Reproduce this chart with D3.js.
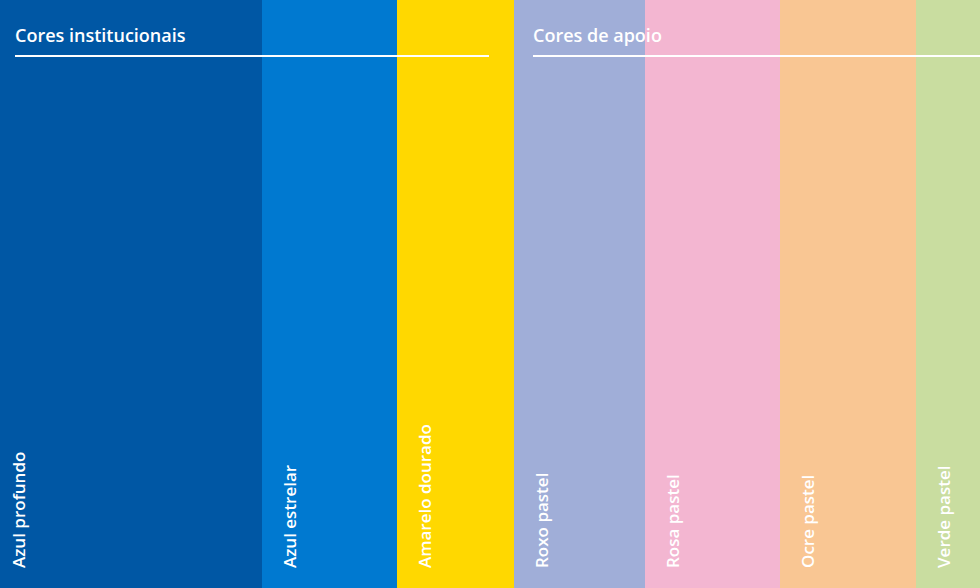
<!DOCTYPE html>
<html><head><meta charset="utf-8">
<script src="https://cdn.jsdelivr.net/npm/d3@7"></script>
<style>body{margin:0;background:#fff}svg{display:block}text{font-family:"Open Sans",Lato,sans-serif;fill:#fff}</style>
</head><body><svg id="c" width="980" height="588"></svg>
<script>
const names=["Azul profundo","Azul estrelar","Amarelo dourado","Roxo pastel","Rosa pastel","Ocre pastel","Verde pastel"];
const widths=[262,135,117,131,135,136,64];
const colors=["#0057a4","#0079d0","#ffd800","#a0aed8","#f3b6d1","#f9c693","#c9dda0"];
const groups=["Cores institucionais","Cores de apoio"];
const groupStart=[0,3];
const groupEnd=[2,6];

const svg=d3.select("#c");
const cum=[0];widths.forEach((w,i)=>cum.push(cum[i]+w));
const x=d3.scaleLinear().domain([0,cum[cum.length-1]]).range([0,980]);
const data=names.map((n,i)=>({n,c:colors[i],x0:cum[i],x1:cum[i+1]}));
svg.selectAll("rect").data(data).join("rect")
 .attr("x",d=>x(d.x0)).attr("y",0).attr("width",d=>x(d.x1)-x(d.x0)+0.5).attr("height",588).attr("fill",d=>d.c);
svg.selectAll("text.lab").data(data).join("text").attr("class","lab")
 .attr("transform",(d,i)=>`translate(${x(d.x0)+(i==0?25:34)},568) rotate(-90)`)
 .attr("font-size",17).attr("font-weight",600).text(d=>d.n);
groups.forEach((g,i)=>{
 const gx=x(cum[groupStart[i]])+(i==0?15:19);
 const ex=i==0?x(cum[groupEnd[i]+1])-25:980;
 svg.append("text").attr("x",gx).attr("y",42).attr("font-size",18).attr("font-weight",600).text(g);
 svg.append("line").attr("x1",gx).attr("x2",ex).attr("y1",56).attr("y2",56).attr("stroke","#fff").attr("stroke-width",2);
});
</script></body></html>
